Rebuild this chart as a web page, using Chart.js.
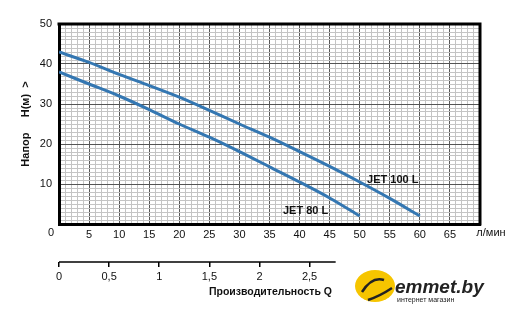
<!DOCTYPE html>
<html>
<head>
<meta charset="utf-8">
<script src="https://cdn.jsdelivr.net/npm/chart.js@4.4.1/dist/chart.umd.min.js"></script>
<style>
  html, body { margin: 0; padding: 0; background: #fff; }
  #wrap { width: 524px; height: 318px; position: relative; }
</style>
</head>
<body>
<div id="wrap"><canvas id="pumpChart"></canvas></div>
<script>
// ---- DATA ----
const flow100 = [0, 5, 10, 15, 20, 25, 30, 35, 40, 45, 50, 55, 60];
const head100 = [43, 40.4, 37.4, 34.6, 31.7, 28.4, 25, 21.7, 18.1, 14.4, 10.5, 6.4, 2];
const flow80 = [0, 5, 10, 15, 20, 25, 30, 35, 40, 45, 50];
const head80 = [38, 35, 32, 28.6, 25, 21.7, 18.1, 14.3, 10.5, 6.5, 2];
const qTicks = [0, 0.5, 1, 1.5, 2, 2.5];
const seriesNames = ['JET 100 L', 'JET 80 L'];

const LPM_PER_M3H = 1000 / 60;
const lineColor = '#3477b2';
const font = 'Liberation Sans, Arial, sans-serif';

const toPoints = (xs, ys) => xs.map((x, i) => ({ x, y: ys[i] }));

// ---- EXTRA DRAWING (frame, labels, second axis, logo) ----
const extras = {
  id: 'extras',
  afterDraw(chart) {
    const { ctx, chartArea: a, scales } = chart;
    const x = scales.x, y = scales.y, q = scales.x2;
    ctx.save();

    // top and right frame
    ctx.strokeStyle = '#000';
    ctx.lineWidth = 3;
    ctx.beginPath();
    ctx.moveTo(a.left - 1.5, a.top);
    ctx.lineTo(a.right, a.top);
    ctx.lineTo(a.right, a.bottom + 1.5);
    ctx.stroke();

    // origin and unit labels
    ctx.fillStyle = '#111';
    ctx.font = '11px ' + font;
    ctx.textAlign = 'center';
    ctx.textBaseline = 'middle';
    ctx.fillText('0', a.left - 8, a.bottom + 9);
    ctx.fillText('л/мин', x.getPixelForValue(70) + 11, a.bottom + 9);

    // curve names
    ctx.font = 'bold 11px ' + font;
    ctx.fillText(seriesNames[0], x.getPixelForValue(55.5), y.getPixelForValue(11));
    ctx.fillText(seriesNames[1], x.getPixelForValue(41), y.getPixelForValue(3.2));

    // second axis line and title
    ctx.lineWidth = 1.5;
    ctx.beginPath();
    ctx.moveTo(q.getPixelForValue(0), q.top);
    ctx.lineTo(q.getPixelForValue(2.76), q.top);
    ctx.stroke();
    ctx.font = 'bold 10.5px ' + font;
    ctx.fillText('Производительность Q', q.getPixelForValue(2.11), q.bottom + 6);

    // shop logo
    ctx.fillStyle = '#f6c500';
    ctx.beginPath();
    ctx.ellipse(375, 286, 20, 16, 0, 0, Math.PI * 2);
    ctx.fill();
    ctx.strokeStyle = '#222';
    ctx.lineWidth = 2.5;
    ctx.beginPath();
    ctx.moveTo(362, 292);
    ctx.quadraticCurveTo(372, 276, 384, 280);
    ctx.moveTo(368, 300);
    ctx.quadraticCurveTo(380, 296, 392, 288);
    ctx.stroke();
    ctx.fillStyle = '#222';
    ctx.textAlign = 'left';
    ctx.textBaseline = 'alphabetic';
    ctx.font = 'italic bold 19px ' + font;
    ctx.fillText('emmet.by', 395, 293);
    ctx.font = '7px ' + font;
    ctx.fillText('интернет магазин', 397, 302);

    ctx.restore();
  }
};

new Chart(document.getElementById('pumpChart'), {
  type: 'scatter',
  data: {
    datasets: [
      {
        label: seriesNames[0],
        data: toPoints(flow100, head100),
        showLine: true,
        borderColor: lineColor,
        borderWidth: 3,
        pointRadius: 0,
        tension: 0.3,
      },
      {
        label: seriesNames[1],
        data: toPoints(flow80, head80),
        showLine: true,
        borderColor: lineColor,
        borderWidth: 3,
        pointRadius: 0,
        tension: 0.3,
      },
    ],
  },
  options: {
    responsive: true,
    maintainAspectRatio: false,
    animation: false,
    layout: { padding: { top: 24, right: 44, bottom: 32, left: 0 } },
    plugins: { legend: { display: false }, tooltip: { enabled: false } },
    scales: {
      x: {
        type: 'linear',
        position: 'bottom',
        weight: 0,
        min: 0,
        max: 70,
        afterBuildTicks: s => { s.ticks = Array.from({ length: 71 }, (_, i) => ({ value: i })); },
        afterFit: s => { s.height = 38; },
        border: { color: '#000', width: 3 },
        grid: {
          drawTicks: false,
          color: c => (c.tick && c.tick.value % 5 === 0 ? '#555' : '#c4c4c4'),
          lineWidth: 1,
        },
        ticks: {
          autoSkip: false,
          maxRotation: 0,
          padding: 4,
          color: '#111',
          font: { family: font, size: 11 },
          callback: v => (v % 5 === 0 && v > 0 && v < 70 ? v : ''),
        },
      },
      x2: {
        type: 'linear',
        position: 'bottom',
        weight: 1,
        min: 0,
        max: 70 / LPM_PER_M3H,
        afterBuildTicks: s => { s.ticks = qTicks.map(v => ({ value: v })); },
        afterFit: s => { s.height = 24; },
        border: { display: false },
        grid: { drawOnChartArea: false, drawTicks: true, tickLength: 5, color: '#000', lineWidth: 1.5 },
        ticks: {
          autoSkip: false,
          maxRotation: 0,
          padding: 3,
          color: '#111',
          font: { family: font, size: 11 },
          callback: v => String(v).replace('.', ','),
        },
      },
      y: {
        min: 0,
        max: 50,
        afterBuildTicks: s => { s.ticks = Array.from({ length: 51 }, (_, i) => ({ value: i })); },
        afterFit: s => { s.width = 59; },
        border: { color: '#000', width: 3 },
        grid: {
          drawTicks: false,
          color: c => (c.tick && c.tick.value % 10 === 0 ? '#555' : '#c4c4c4'),
          lineWidth: 1,
        },
        ticks: {
          autoSkip: false,
          padding: 7,
          color: '#111',
          font: { family: font, size: 11 },
          callback: v => (v % 10 === 0 && v > 0 ? v : ''),
        },
        title: {
          display: true,
          text: 'Напор     H(м)  >',
          color: '#111',
          font: { family: font, size: 11, weight: 'bold' },
          padding: { top: 19, bottom: 0 },
        },
      },
    },
  },
  plugins: [extras],
});
</script>
</body>
</html>
